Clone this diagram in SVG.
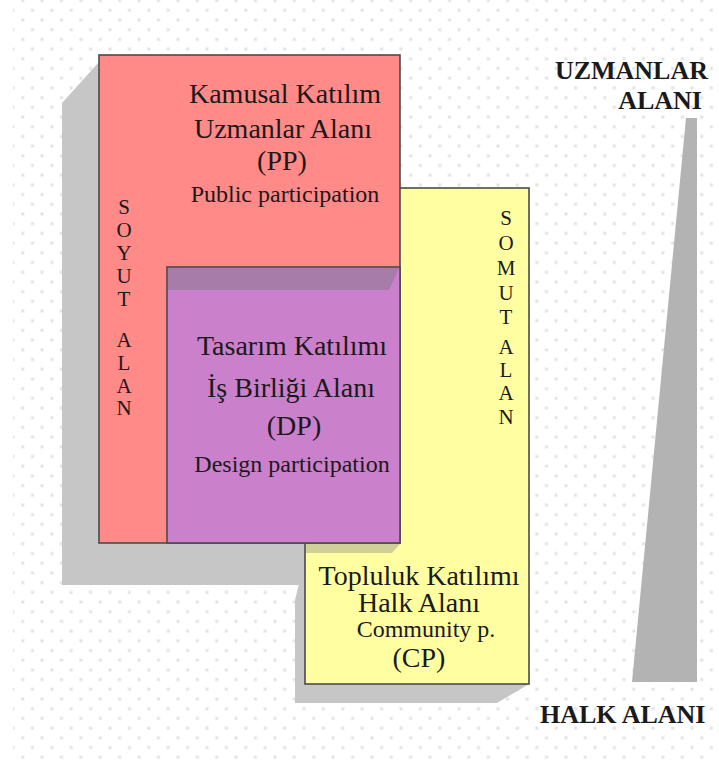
<svg xmlns="http://www.w3.org/2000/svg" width="719" height="760" viewBox="0 0 719 760" font-family="Liberation Serif, Times New Roman, DejaVu Serif, serif">
<style>
.box{stroke:#4a4a4a;stroke-width:1.6}
.shadow{fill:#c6c6c6}
.t{text-anchor:middle;fill:#1a1a1a}
.big{font-size:28px}
.small{font-size:24px}
.vert{font-size:21px}
.lbl{font-size:26px;font-weight:bold;fill:#1a1a1a}
</style>
<defs>
<pattern id="dots" patternUnits="userSpaceOnUse" x="13" y="10.3" width="19.4" height="19.4">
<rect x="-1.5" y="-1.5" width="3" height="3" fill="#e2e2e2"/>
<rect x="17.9" y="-1.5" width="3" height="3" fill="#e2e2e2"/>
<rect x="-1.5" y="17.9" width="3" height="3" fill="#e2e2e2"/>
<rect x="17.9" y="17.9" width="3" height="3" fill="#e2e2e2"/>
<rect x="8.2" y="8.2" width="3" height="3" fill="#e2e2e2"/>
</pattern>
</defs>
<rect width="719" height="760" fill="#ffffff"/>
<rect x="13" y="0" width="706" height="760" fill="url(#dots)"/>

<g id="scale-wedge">
<polygon points="686,118 697,118 697,682 632,682" fill="#b3b3b3"/>
</g>

<g id="pp-shadow">
<polygon class="shadow" points="99,62 62,103 62,585 363,585 363,543 99,543"/>
</g>

<g id="cp-node" font-family="Liberation Serif, serif">
<polygon class="shadow" points="305,560 295,600 295,703 497,703 529,684 305,684"/>
<rect class="box" x="305" y="188" width="224" height="496" fill="#ffffa2"/>
<polygon points="306,544 400,544 392,553 306,553" fill="#cfcf98"/>
<text class="t big" x="419" y="585">Topluluk Katılımı</text>
<text class="t big" x="419" y="612">Halk Alanı</text>
<text class="t small" x="426" y="637">Community p.</text>
<text class="t big" x="419" y="667">(CP)</text>
<g class="t vert">
<text x="506" y="225">S</text>
<text x="506" y="250">O</text>
<text x="506" y="275">M</text>
<text x="506" y="300">U</text>
<text x="506" y="324">T</text>
<text x="506" y="354">A</text>
<text x="506" y="377">L</text>
<text x="506" y="400">A</text>
<text x="506" y="424">N</text>
</g>
</g>

<g id="pp-node" font-family="Liberation Serif, serif">
<rect class="box" x="99" y="55" width="301" height="488" fill="#ff8a88"/>
<text class="t big" x="285" y="103">Kamusal Katılım</text>
<text class="t big" x="283" y="138">Uzmanlar Alanı</text>
<text class="t big" x="282" y="170">(PP)</text>
<text class="t small" x="285" y="202">Public participation</text>
<g class="t vert">
<text x="124" y="214">S</text>
<text x="124" y="237">O</text>
<text x="124" y="260">Y</text>
<text x="124" y="283">U</text>
<text x="124" y="306">T</text>
<text x="124" y="347">A</text>
<text x="124" y="370">L</text>
<text x="124" y="393">A</text>
<text x="124" y="415">N</text>
</g>
</g>

<g id="dp-node" font-family="Liberation Serif, serif">
<rect class="box" x="167" y="267" width="233" height="276" fill="#cb80cb"/>
<polygon points="168,268 399,268 389,290 168,290" fill="#a87ca8"/>
<text class="t big" x="292" y="355">Tasarım Katılımı</text>
<text class="t big" x="291" y="397">İş Birliği Alanı</text>
<text class="t big" x="294" y="435">(DP)</text>
<text class="t small" x="292" y="472">Design participation</text>
</g>

<g id="labels" font-family="Liberation Serif, serif">
<text class="lbl" x="708" y="79" text-anchor="end">UZMANLAR</text>
<text class="lbl" x="702" y="109" text-anchor="end" fill="#333">ALANI</text>
<text class="lbl" x="540" y="723">HALK ALANI</text>
</g>
<g id="connectors"></g>
</svg>
